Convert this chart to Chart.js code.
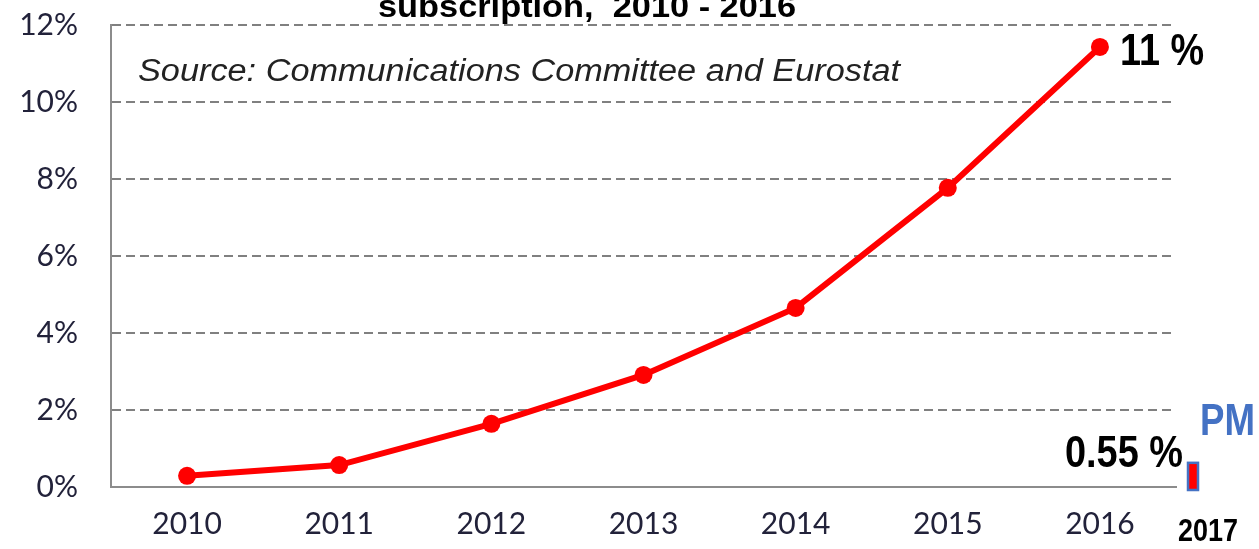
<!DOCTYPE html>
<html>
<head>
<meta charset="utf-8">
<script src="https://cdn.jsdelivr.net/npm/chart.js@4/dist/chart.umd.min.js"></script>
<style>
html,body{margin:0;padding:0;background:#fff;}
#wrap{width:1259px;height:549px;position:relative;}
</style>
</head>
<body>
<div id="wrap"><canvas id="c" width="1259" height="549"></canvas></div>
<script>
const years = ['2010','2011','2012','2013','2014','2015','2016'];
const share = [0.29, 0.57, 1.64, 2.91, 4.65, 7.77, 11.43];
const yTicks = [0, 2, 4, 6, 8, 10, 12];
const titleText = 'subscription,  2010 - 2016';
const sourceText = 'Source: Communications Committee and Eurostat';
const endLabel = '11 %';
const pmYear = '2017';
const pmValue = [0.55];
const pmLabel = '0.55 %';
const pmTag = 'PM';

function fitText(ctx, text, x, y, width) {
  const w = ctx.measureText(text).width;
  ctx.save();
  ctx.translate(x, y);
  ctx.scale(width / w, 1);
  ctx.fillText(text, 0, 0);
  ctx.restore();
}

const annot = {
  id: 'annot',
  afterDraw(chart) {
    const ctx = chart.ctx;
    const y = chart.scales.y;
    ctx.save();
    ctx.textBaseline = 'alphabetic';
    ctx.textAlign = 'left';
    // title (cut at top)
    ctx.fillStyle = '#000';
    ctx.font = 'bold 31px "Liberation Sans", Arial, sans-serif';
    fitText(ctx, titleText, 378, 17, 418);
    // source
    ctx.font = 'italic 31px "Liberation Sans", Arial, sans-serif';
    ctx.fillStyle = '#222';
    fitText(ctx, sourceText, 138, 81, 762);
    // end label
    ctx.fillStyle = '#000';
    ctx.font = 'bold 44px "Liberation Sans", Arial, sans-serif';
    fitText(ctx, endLabel, 1120, 65, 84);
    // PM bar for 2017
    const bx = 1188, bw = 10;
    const top = y.getPixelForValue(pmValue[0]) - 3;
    const bottom = y.getPixelForValue(0) + 3;
    ctx.fillStyle = '#FF0000';
    ctx.fillRect(bx, top, bw, bottom - top);
    ctx.strokeStyle = '#4472C4';
    ctx.lineWidth = 2.5;
    ctx.strokeRect(bx, top, bw, bottom - top);
    // 0.55 % label
    ctx.fillStyle = '#000';
    ctx.font = 'bold 44px "Liberation Sans", Arial, sans-serif';
    fitText(ctx, pmLabel, 1065, 467, 118);
    // PM tag
    ctx.fillStyle = '#4472C4';
    ctx.font = 'bold 44px "Liberation Sans", Arial, sans-serif';
    fitText(ctx, pmTag, 1200, 435, 55);
    // 2017
    ctx.fillStyle = '#000';
    ctx.font = 'bold 31px "Liberation Sans", Arial, sans-serif';
    fitText(ctx, pmYear, 1178, 541, 60);
    ctx.restore();
  }
};

new Chart(document.getElementById('c'), {
  type: 'line',
  data: {
    labels: years,
    datasets: [{
      data: share,
      borderColor: '#FF0000',
      backgroundColor: '#FF0000',
      borderWidth: 6,
      pointRadius: 9,
      pointHoverRadius: 9,
      pointBackgroundColor: '#FF0000',
      pointBorderWidth: 0,
      tension: 0
    }]
  },
  options: {
    responsive: false,
    animation: false,
    events: [],
    layout: { padding: { left: 0, right: 83, top: 25, bottom: 0 } },
    plugins: { legend: { display: false }, title: { display: false }, tooltip: { enabled: false } },
    scales: {
      x: {
        offset: true,
        grid: { display: false, drawTicks: false },
        border: { display: true, color: '#8c8c8c', width: 2 },
        ticks: { color: '#22223a', font: { family: 'Lato', size: 30 }, padding: 19, maxRotation: 0 },
        afterFit(s) { s.height = 62; s.paddingLeft = 0; s.paddingRight = 0; }
      },
      y: {
        min: 0, max: 12,
        afterBuildTicks(s) { s.ticks = yTicks.map(v => ({ value: v })); },
        grid: { color: (c) => c.tick && c.tick.value === 0 ? 'rgba(0,0,0,0)' : '#808080', lineWidth: 2, drawTicks: false },
        border: { display: true, color: '#8c8c8c', width: 2, dash: [9, 5] },
        ticks: { color: '#22223a', font: { family: 'Lato', size: 30 }, padding: 33, callback: (v) => v + '%' },
        afterFit(s) { s.width = 111; s.paddingTop = 0; s.paddingBottom = 0; }
      }
    }
  },
  plugins: [annot]
});
</script>
</body>
</html>
